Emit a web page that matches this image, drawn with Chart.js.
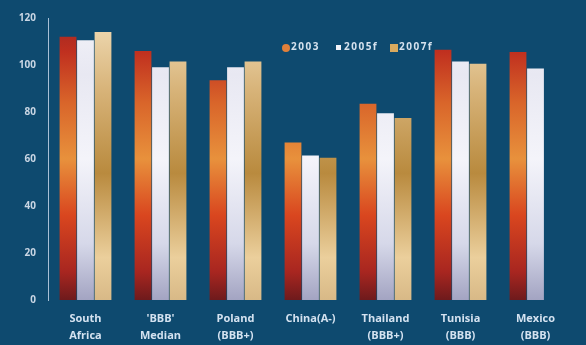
<!DOCTYPE html>
<html><head><meta charset="utf-8">
<script src="https://cdn.jsdelivr.net/npm/chart.js@4/dist/chart.umd.min.js"></script>
<style>
html,body{margin:0;padding:0;background:#0e4a6f;}
#wrap{width:586px;height:345px;position:relative;}
</style></head>
<body><div id="wrap"><canvas id="c" width="586" height="345"></canvas></div>
<script>
const categories = [["South","Africa"],["'BBB'","Median"],["Poland","(BBB+)"],["China(A-)"],["Thailand","(BBB+)"],["Tunisia","(BBB)"],["Mexico","(BBB)"]];
const seriesNames = ["2003","2005f","2007f"];
const values2003 = [112, 106, 93.5, 67, 83.5, 106.5, 105.5];
const values2005f = [110.5, 99, 99, 61.5, 79.5, 101.5, 98.5];
const values2007f = [114, 101.5, 101.5, 60.5, 77.5, 100.5, null];
const yTicks = [0,20,40,60,80,100,120];

const BG = '#0e4a6f';
function grad(ctx, stops){
  const ca = ctx.chart.chartArea;
  if(!ca) return stops[0][1];
  const g = ctx.chart.ctx.createLinearGradient(0, ca.bottom, 0, ca.top);
  stops.forEach(s=>g.addColorStop(s[0], s[1]));
  return g;
}
const redStops = [[0,'#6e1a1c'],[0.1,'#a82620'],[0.3,'#d9461f'],[0.5,'#e8913c'],[0.7,'#d9652a'],[0.88,'#c0301f'],[1,'#9e2622']];
const whiteStops = [[0,'#a3a4c2'],[0.2,'#d6d8e9'],[0.5,'#f4f4fa'],[0.8,'#e8e8f2'],[1,'#f2f2f8']];
const goldStops = [[0,'#d8b987'],[0.15,'#ebcf9c'],[0.45,'#b98a3e'],[0.75,'#d8b47a'],[1,'#f0dcb6']];
const legendColors = ['#e0803a','#f2f2f8','#d9aa5e'];

const legendPlugin = {
  id:'customLegend',
  afterDraw(chart){
    const c = chart.ctx;
    c.save();
    c.font = 'bold 10px "Open Sans", sans-serif';
    c.letterSpacing = '1.5px';
    c.textBaseline = 'middle';
    const xs = [282, 335, 390];
    const y = 47;
    seriesNames.forEach((n,i)=>{
      const x = xs[i];
      c.fillStyle = legendColors[i];
      if(i===1){ c.fillRect(x+1, y-2, 5, 5); }
      else if(i===0){ c.beginPath(); c.arc(x+4, y+1, 4, 0, Math.PI*2); c.fill(); }
      else { c.fillRect(x, y-3, 8, 8); }
      c.fillStyle = '#d6e2ee';
      c.fillText(n, x+9, y);
    });
    c.restore();
  }
};

new Chart(document.getElementById('c'), {
  type:'bar',
  data:{
    labels: categories,
    datasets:[
      {label:seriesNames[0], data:values2003, backgroundColor:(ctx)=>grad(ctx, redStops)},
      {label:seriesNames[1], data:values2005f, backgroundColor:(ctx)=>grad(ctx, whiteStops)},
      {label:seriesNames[2], data:values2007f, backgroundColor:(ctx)=>grad(ctx, goldStops)}
    ]
  },
  options:{
    responsive:false,
    animation:false,
    layout:{padding:{top:16,right:13,left:0,bottom:0}},
    datasets:{bar:{barPercentage:0.96, categoryPercentage:0.7}},
    plugins:{legend:{display:false}, tooltip:{enabled:false}},
    scales:{
      x:{
        grid:{display:false, drawTicks:false},
        border:{display:false},
        ticks:{color:'#d4e2f0', font:{family:'"Open Sans", sans-serif', size:11, weight:'bold', lineHeight:'17px'}, padding:10, maxRotation:0, autoSkip:false},
        afterFit(s){ s.height = 45; }
      },
      y:{
        min:0, max:120,
        afterBuildTicks(s){ s.ticks = yTicks.map(v=>({value:v})); },
        grid:{display:false, drawTicks:false},
        border:{display:true, color:'#a8c0d6', width:1},
        ticks:{color:'#c9d6e4', font:{family:'"Open Sans", sans-serif', size:10, weight:'bold'}, padding:12},
        afterFit(s){ s.width = 48; }
      }
    }
  },
  plugins:[legendPlugin, {id:'bg', beforeDraw(chart){const c=chart.ctx; c.save(); c.fillStyle=BG; c.fillRect(0,0,chart.width,chart.height); c.restore();}}]
});
</script></body></html>
